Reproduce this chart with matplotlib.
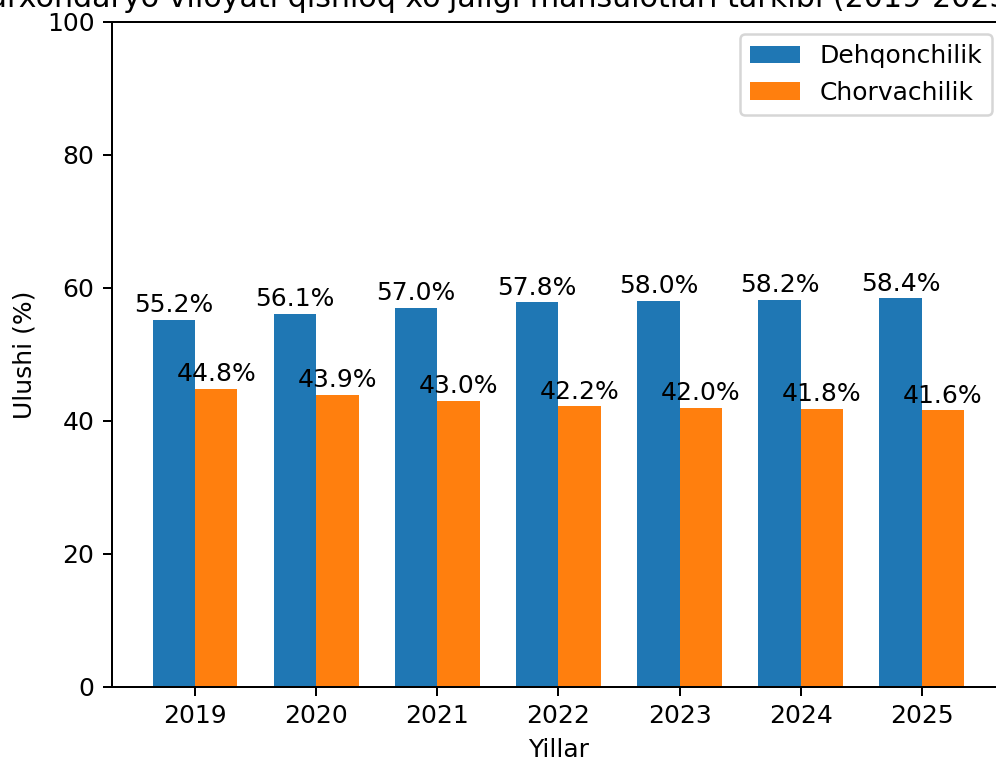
import matplotlib
matplotlib.use("Agg")
import matplotlib.pyplot as plt
import numpy as np

years = ["2019", "2020", "2021", "2022", "2023", "2024", "2025"]
dehqonchilik = [55.2, 56.1, 57.0, 57.8, 58.0, 58.2, 58.4]
chorvachilik = [44.8, 43.9, 43.0, 42.2, 42.0, 41.8, 41.6]
title = "Surxondaryo viloyati qishloq xo'jaligi mahsulotlari tarkibi (2019-2025)"

DPI = 180
fig = plt.figure(figsize=(996 / DPI, 758 / DPI), dpi=DPI)
W, H = 996, 758
ax = fig.add_axes([112 / W, 71.04 / H, 892.8 / W, 665.28 / H])

x = np.arange(len(years))
w = 0.35
b1 = ax.bar(x - w / 2, dehqonchilik, w, label="Dehqonchilik")
b2 = ax.bar(x + w / 2, chorvachilik, w, label="Chorvachilik")

for bars, vals in ((b1, dehqonchilik), (b2, chorvachilik)):
    for r, v in zip(bars, vals):
        ax.text(r.get_x() + r.get_width() / 2, r.get_height() + 0.4, f"{v:.1f}%",
                ha="center", va="bottom")

ax.set_xticks(x)
ax.set_xticklabels(years)
ax.set_ylim(0, 100)
ax.set_xlabel("Yillar")
ax.set_ylabel("Ulushi (%)")
ax.set_title(title, x=0.5 - 64 / 892.8)
ax.legend(loc="upper right")

fig.savefig("out.png", dpi=DPI)
